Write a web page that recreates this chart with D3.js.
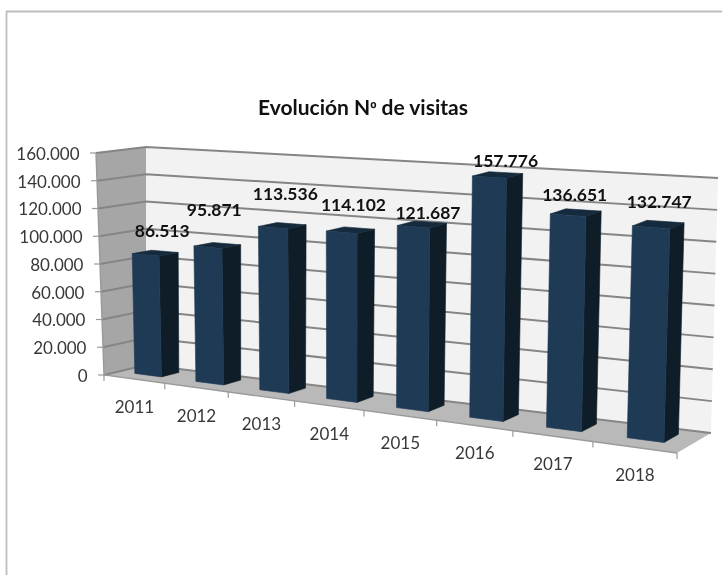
<!DOCTYPE html>
<html><head><meta charset="utf-8">
<script src="https://cdn.jsdelivr.net/npm/d3@7"></script>
<style>
html,body{margin:0;padding:0;background:#fff}
svg{display:block;filter:blur(0.55px)}
text{font-family:Lato,"Open Sans",sans-serif}
</style></head><body>
<svg id="c" width="722" height="575"></svg>
<script>
const titleParts = ["Evolución N","º"," de visitas"];
const years = ["2011","2012","2013","2014","2015","2016","2017","2018"];
const visits = [86513,95871,113536,114102,121687,157776,136651,132747];
const yMax = 160000;
const yTickCount = 8;

// label nudges relative to each bar's top (hand placed in the original)
const labelDx = [7,-3,3,3,6,8,-1,1];
const labelDy = [-22,-36,-32,-25,-11,-14,-18,-23];

// projection: floor and ceiling quads of the 3-D box (front-left, front-right, back-right, back-left)
const floorQ = [[104,375],[677,453],[711,433],[146,365]];
const ceilQ  = [[96,153],[685,191],[718,178],[146,147]];
const persp = 1.204;
const warp = u => u/(u+(1-u)*persp);
const lerp = (a,b,t) => a+(b-a)*t;
const bil = (q,t,w) => [0,1].map(k => lerp(lerp(q[0][k],q[1][k],t),lerp(q[3][k],q[2][k],t),w));
const yScale = d3.scaleLinear().domain([0,yMax]).range([0,1]);
const xBase = d3.scaleBand().domain(years).range([0,1]);
const xBar = d3.scaleBand().domain(years).range([0,1]).paddingInner(0.56).paddingOuter(0.28).align(0.47);
function P(u,w,v){
  const t = warp(u), a = bil(floorQ,t,w), b = bil(ceilQ,t,w), f = yScale(v);
  return [lerp(a[0],b[0],f),lerp(a[1],b[1],f)];
}
const poly = pts => pts.map(p=>p.map(n=>n.toFixed(1)).join(",")).join(" ");
const svg = d3.select("#c");
const W0=0.36, W1=0.78;

// frame
svg.append("path").attr("d","M6.5,575V11.5H722").attr("fill","none").attr("stroke","#bdbdbd").attr("stroke-width",1.8);

// title
const tt = svg.append("text").attr("x",363).attr("y",115).attr("text-anchor","middle")
  .attr("font-size",21).attr("font-weight",700).attr("fill","#111");
tt.append("tspan").text(titleParts[0]);
tt.append("tspan").attr("font-family","'Liberation Sans'").attr("font-size",17).text(titleParts[1]);
tt.append("tspan").text(titleParts[2]);

// walls and floor
svg.append("polygon").attr("points",poly([P(0,1,0),P(1,1,0),P(1,1,yMax),P(0,1,yMax)])).attr("fill","#f2f2f2");
svg.append("polygon").attr("points",poly([P(0,0,0),P(0,1,0),P(0,1,yMax),P(0,0,yMax)])).attr("fill","#a6a6a6");
svg.append("polygon").attr("points",poly([P(0,0,0),P(1,0,0),P(1,1,0),P(0,1,0)])).attr("fill","#b9b9b9");

// gridlines
const yTicks = yScale.ticks(yTickCount);
const fmt = d3.formatLocale({decimal:",",thousands:".",grouping:[3],currency:["",""]}).format(",d");
const gridLine = d3.line();
svg.append("g").selectAll("path").data(yTicks).join("path")
  .attr("d",v=>gridLine([P(0,0,v),P(0,1,v),P(1,1,v)]))
  .attr("fill","none").attr("stroke","#858585").attr("stroke-width",2);

// axes
svg.append("path").attr("d",gridLine([P(0,0,yMax),P(0,0,0),P(1,0,0)])).attr("fill","none").attr("stroke","#9a9a9a").attr("stroke-width",1.4);
const yAxis = svg.append("g").selectAll("g").data(yTicks).join("g")
  .attr("transform",v=>{const p=P(0,0,v);return `translate(${p[0]},${p[1]})`});
yAxis.append("line").attr("x1",-6).attr("x2",0).attr("stroke","#9a9a9a").attr("stroke-width",1.2);
yAxis.append("text").attr("x",-16.5).attr("y",1).attr("dy","0.35em").attr("text-anchor","end")
  .attr("font-size",17).attr("fill","#383838").text(fmt);

const xEdges = years.map((y,i)=>xBase(y)).concat([1]);
svg.append("g").selectAll("line").data(xEdges).join("line")
  .attr("x1",u=>P(u,0,0)[0]).attr("x2",u=>P(u,0,0)[0])
  .attr("y1",u=>P(u,0,0)[1]).attr("y2",u=>P(u,0,0)[1]+6)
  .attr("stroke","#9a9a9a").attr("stroke-width",1.2);
svg.append("g").selectAll("text").data(years).join("text")
  .attr("x",y=>(P(xBase(y),0,0)[0]+P(xBase(y)+xBase.bandwidth(),0,0)[0])/2)
  .attr("y",y=>(P(xBase(y),0,0)[1]+P(xBase(y)+xBase.bandwidth(),0,0)[1])/2+28)
  .attr("dy","0.35em").attr("text-anchor","middle").attr("font-size",17).attr("fill","#383838").text(y=>y);

// bars
const data = years.map((y,i)=>({y,v:visits[i],i}));
const bars = svg.append("g").selectAll("g").data(data).join("g").attr("stroke-width",0.6).attr("stroke-linejoin","round");
const u0 = d=>xBar(d.y), u1 = d=>xBar(d.y)+xBar.bandwidth();
bars.append("polygon").attr("points",d=>poly([P(u1(d),W0,0),P(u1(d),W1,0),P(u1(d),W1,d.v),P(u1(d),W0,d.v)])).attr("fill","#0e1d27").attr("stroke","#0e1d27");
bars.append("polygon").attr("points",d=>poly([P(u0(d),W0,d.v),P(u1(d),W0,d.v),P(u1(d),W1,d.v),P(u0(d),W1,d.v)])).attr("fill","#152a3c").attr("stroke","#152a3c");
bars.append("polygon").attr("points",d=>poly([P(u0(d),W0,0),P(u1(d),W0,0),P(u1(d),W0,d.v),P(u0(d),W0,d.v)])).attr("fill","#1f3a54").attr("stroke","#1f3a54");

// value labels
svg.append("g").selectAll("text").data(data).join("text")
  .attr("x",d=>(P(u0(d),W0,d.v)[0]+P(u1(d),W1,d.v)[0])/2+labelDx[d.i])
  .attr("y",d=>(P(u0(d),W0,d.v)[1]+P(u1(d),W1,d.v)[1])/2+labelDy[d.i])
  .attr("dy","0.35em").attr("text-anchor","middle").attr("font-size",17.5).attr("font-weight",700).attr("fill","#111")
  .text(d=>fmt(d.v));
</script>
</body></html>
